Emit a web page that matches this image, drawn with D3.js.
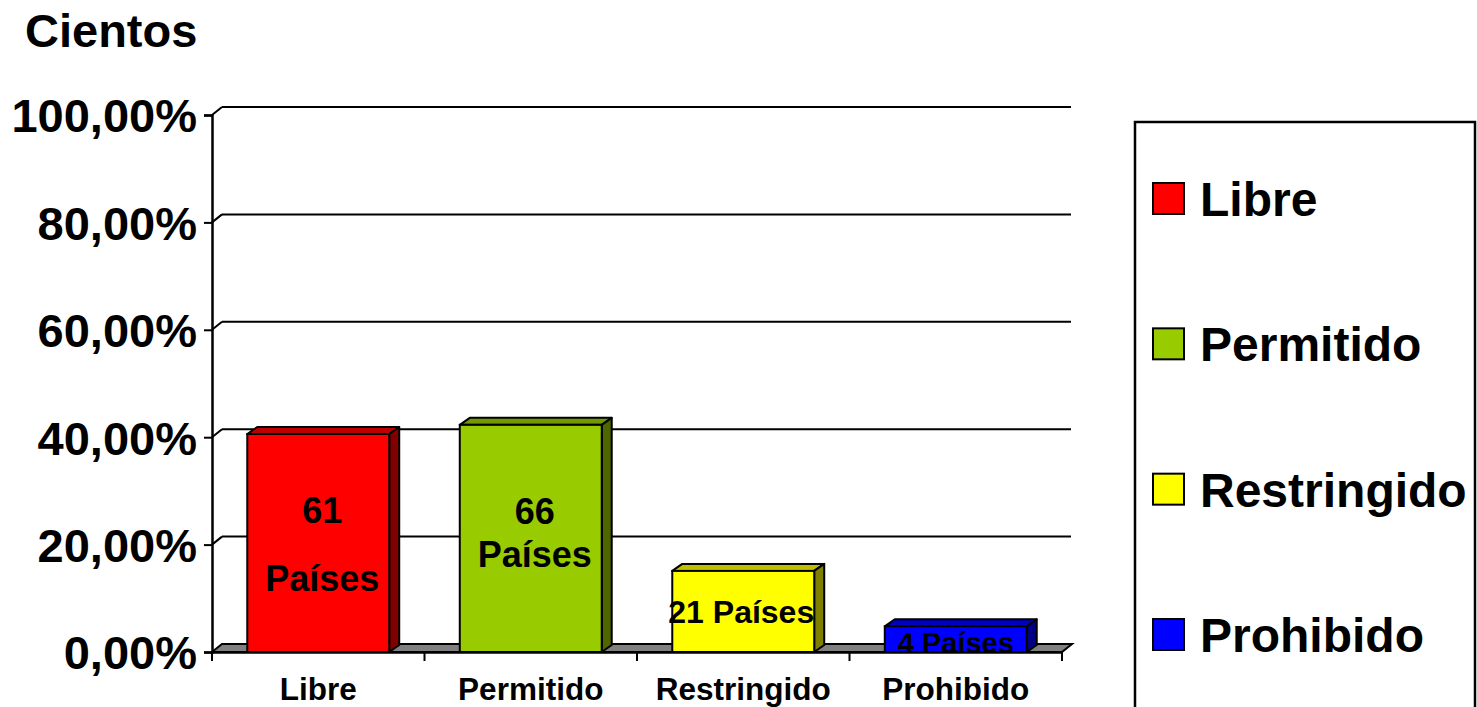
<!DOCTYPE html>
<html><head><meta charset="utf-8">
<script src="https://cdn.jsdelivr.net/npm/d3@7"></script>
<style>
body{margin:0;background:#fff;}
svg{display:block;font-family:"Liberation Sans",Arial,sans-serif;font-weight:bold;}
</style></head>
<body><svg id="c" width="1477" height="707"></svg>
<script>
const categories = ["Libre","Permitido","Restringido","Prohibido"];
const values = [40.6, 42.3, 15.1, 4.8];          // percent
const countLabels = [["61","Países"],["66","Países"],["21 Países"],["4 Países"]];
const yTicks = [0,20,40,60,80,100];
const yTickLabels = ["0,00%","20,00%","40,00%","60,00%","80,00%","100,00%"];
const frontColors = ["#FF0000","#99CC00","#FFFF00","#0000FF"];
const topColors   = ["#C00000","#739900","#BFBF00","#0000C0"];
const sideColors  = ["#800000","#4D6600","#808000","#000080"];
const title = "Cientos";

const svg = d3.select("#c");
const X0 = 212, X1 = 1062, Y0 = 652, Y1 = 115;
const DX = 10, DY = -8;       // wall depth
const BDX = 10, BDY = -7;     // bar depth

const y = d3.scaleLinear().domain([0,100]).range([Y0,Y1]);
const x = d3.scaleBand().domain(categories).range([X0,X1]).paddingInner(0.332).paddingOuter(0.166);
const xc = d3.scaleBand().domain(categories).range([X0,X1]);

// title
svg.append("text").attr("x",25).attr("y",47).attr("font-size",47).text(title);

// back wall gridlines + diagonals
const grid = svg.append("g").attr("stroke","#000").attr("stroke-width",2).attr("fill","none");
yTicks.filter(d=>d>0).forEach(d=>{
  grid.append("line").attr("x1",X0+DX).attr("x2",X1+DX-1).attr("y1",y(d)+DY).attr("y2",y(d)+DY);
  grid.append("line").attr("x1",X0).attr("x2",X0+DX).attr("y1",y(d)).attr("y2",y(d)+DY);
});

// floor
svg.append("path")
  .attr("d",`M${X0},${y(0)}L${X0+DX},${y(0)+DY}L${X1+DX},${y(0)+DY}L${X1},${y(0)}Z`)
  .attr("fill","#808080").attr("stroke","#000").attr("stroke-width",2);

// y axis
const yAxis = svg.append("g").attr("transform",`translate(${X0},0)`)
  .call(d3.axisLeft(y).tickValues(yTicks).tickSize(8).tickPadding(7)
        .tickFormat(d=>yTickLabels[yTicks.indexOf(d)]));
yAxis.select(".domain").attr("stroke","#000").attr("stroke-width",2.5);
yAxis.selectAll(".tick line").attr("stroke","#000").attr("stroke-width",2);
yAxis.selectAll(".tick text").attr("font-size",47).attr("font-family","Liberation Sans, Arial, sans-serif")
  .attr("font-weight","bold").attr("fill","#000").attr("dy","0.36em");

// bars
const bars = svg.append("g").selectAll("g").data(categories).join("g");
bars.each(function(c,i){
  const g = d3.select(this);
  const bx = x(c), bw = x.bandwidth(), top = y(values[i]), bot = y(0);
  g.append("path").attr("d",`M${bx},${top}L${bx+BDX},${top+BDY}L${bx+bw+BDX},${top+BDY}L${bx+bw},${top}Z`)
    .attr("fill",topColors[i]).attr("stroke","#000").attr("stroke-width",2).attr("stroke-linejoin","round");
  g.append("path").attr("d",`M${bx+bw},${top}L${bx+bw+BDX},${top+BDY}L${bx+bw+BDX},${bot+BDY}L${bx+bw},${bot}Z`)
    .attr("fill",sideColors[i]).attr("stroke","#000").attr("stroke-width",2).attr("stroke-linejoin","round");
  g.append("rect").attr("x",bx).attr("y",top).attr("width",bw).attr("height",bot-top)
    .attr("fill",frontColors[i]).attr("stroke","#000").attr("stroke-width",2);
});

// x axis front line + ticks
const xAxis = svg.append("g").attr("transform",`translate(0,${Y0})`)
  .call(d3.axisBottom(xc).tickSize(0).tickPadding(0));
xAxis.select(".domain").attr("stroke","#000").attr("stroke-width",2.5);
xAxis.selectAll(".tick text").attr("font-size",31.5).attr("font-family","Liberation Sans, Arial, sans-serif")
  .attr("font-weight","bold").attr("fill","#000").attr("y",48).attr("dy",0);
const bounds = categories.map(c=>xc(c)).concat([X1]);
xAxis.selectAll("line.bt").data(bounds).join("line").attr("class","bt")
  .attr("x1",d=>d).attr("x2",d=>d).attr("y1",0).attr("y2",9).attr("stroke","#000").attr("stroke-width",2);

// bar labels (clipped at floor)
svg.append("clipPath").attr("id","clipL").append("rect").attr("x",0).attr("y",0).attr("width",1477).attr("height",y(0)-1);
const labelSpec = [
  {size:36, base:[523,591], dx:4},
  {size:36, base:[524,567], dx:4},
  {size:32, base:[623], dx:-2},
  {size:29, base:[653], dx:0}
];
const lab = svg.append("g").attr("clip-path","url(#clipL)");
categories.forEach((c,i)=>{
  const cx = x(c)+x.bandwidth()/2+labelSpec[i].dx;
  const t = lab.append("text").attr("text-anchor","middle").attr("font-size",labelSpec[i].size).attr("fill","#000");
  countLabels[i].forEach((s,j)=>{
    t.append("tspan").attr("x",cx).attr("y",labelSpec[i].base[j]).text(s);
  });
});

// legend
const lg = svg.append("g");
lg.append("rect").attr("x",1135).attr("y",122).attr("width",340).attr("height",620)
  .attr("fill","#fff").attr("stroke","#000").attr("stroke-width",2.5);
const ly = d3.scalePoint().domain(categories).range([199,635]);
categories.forEach((c,i)=>{
  lg.append("rect").attr("x",1153).attr("y",ly(c)-16).attr("width",31).attr("height",31)
    .attr("fill",frontColors[i]).attr("stroke","#000").attr("stroke-width",2);
  lg.append("text").attr("x",1200).attr("y",ly(c)+17).attr("font-size",48).attr("fill","#000").text(c);
});
</script></body></html>
